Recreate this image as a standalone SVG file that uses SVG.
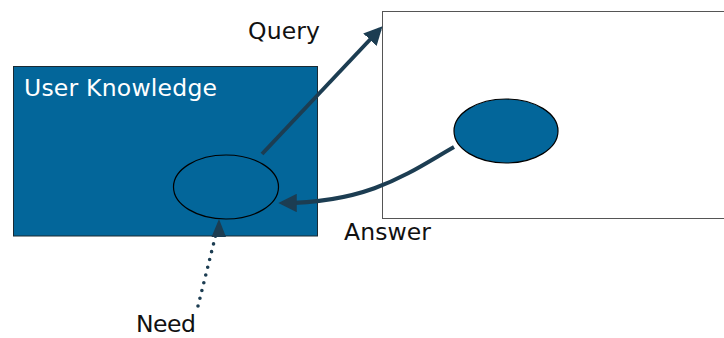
<svg xmlns="http://www.w3.org/2000/svg" width="724" height="338" viewBox="0 0 724 338">
  <style>
    .lbl { font-family: "DejaVu Sans", Verdana, sans-serif; font-size: 23.5px; fill: #111; }
    .title { font-family: "DejaVu Sans", Verdana, sans-serif; font-size: 23.5px; fill: #fff; }
    .blob { fill: #03669a; stroke: #000; stroke-width: 1.2; }
    .link { fill: none; stroke: #1c3d52; stroke-width: 4; }
    .dotted { fill: none; stroke: #1c3d52; stroke-width: 3.6; stroke-linecap: round; stroke-dasharray: 0 8; }
  </style>
  <defs>
    <marker id="head" viewBox="0 0 10 10" refX="8" refY="5" markerWidth="4.6" markerHeight="4.6" markerUnits="strokeWidth" orient="auto">
      <path d="M0,0 L10,5 L0,10 Z" fill="#1c3d52"/>
    </marker>
  </defs>

  <g id="user-knowledge">
    <rect x="13.5" y="66.5" width="304" height="169.5" fill="#03669a" stroke="#1a2a33" stroke-width="1"/>
    <text class="title" x="24" y="96" textLength="193">User Knowledge</text>
  </g>

  <g id="need-node">
    <ellipse class="blob" cx="226" cy="187" rx="52.5" ry="32"/>
  </g>

  <g id="system">
    <rect x="382.5" y="11.5" width="345" height="207" fill="#fff" stroke="#555" stroke-width="1"/>
  </g>

  <g id="answer-node">
    <ellipse class="blob" cx="506" cy="131" rx="52" ry="32"/>
  </g>

  <g id="connectors">
    <line class="link" x1="262" y1="154" x2="380" y2="29" marker-end="url(#head)"/>
    <path class="link" d="M454,147 C410,172 370,203 282,203" marker-end="url(#head)"/>
    <path class="dotted" d="M198,306 L216,234"/>
    <path d="M211.5,237 L219,219 L226,237 Z" fill="#1c3d52"/>
  </g>

  <g id="labels">
    <text class="lbl" x="248" y="39" textLength="72">Query</text>
    <text class="lbl" x="344" y="240" textLength="87">Answer</text>
    <text class="lbl" x="136" y="332" textLength="60">Need</text>
  </g>
</svg>
